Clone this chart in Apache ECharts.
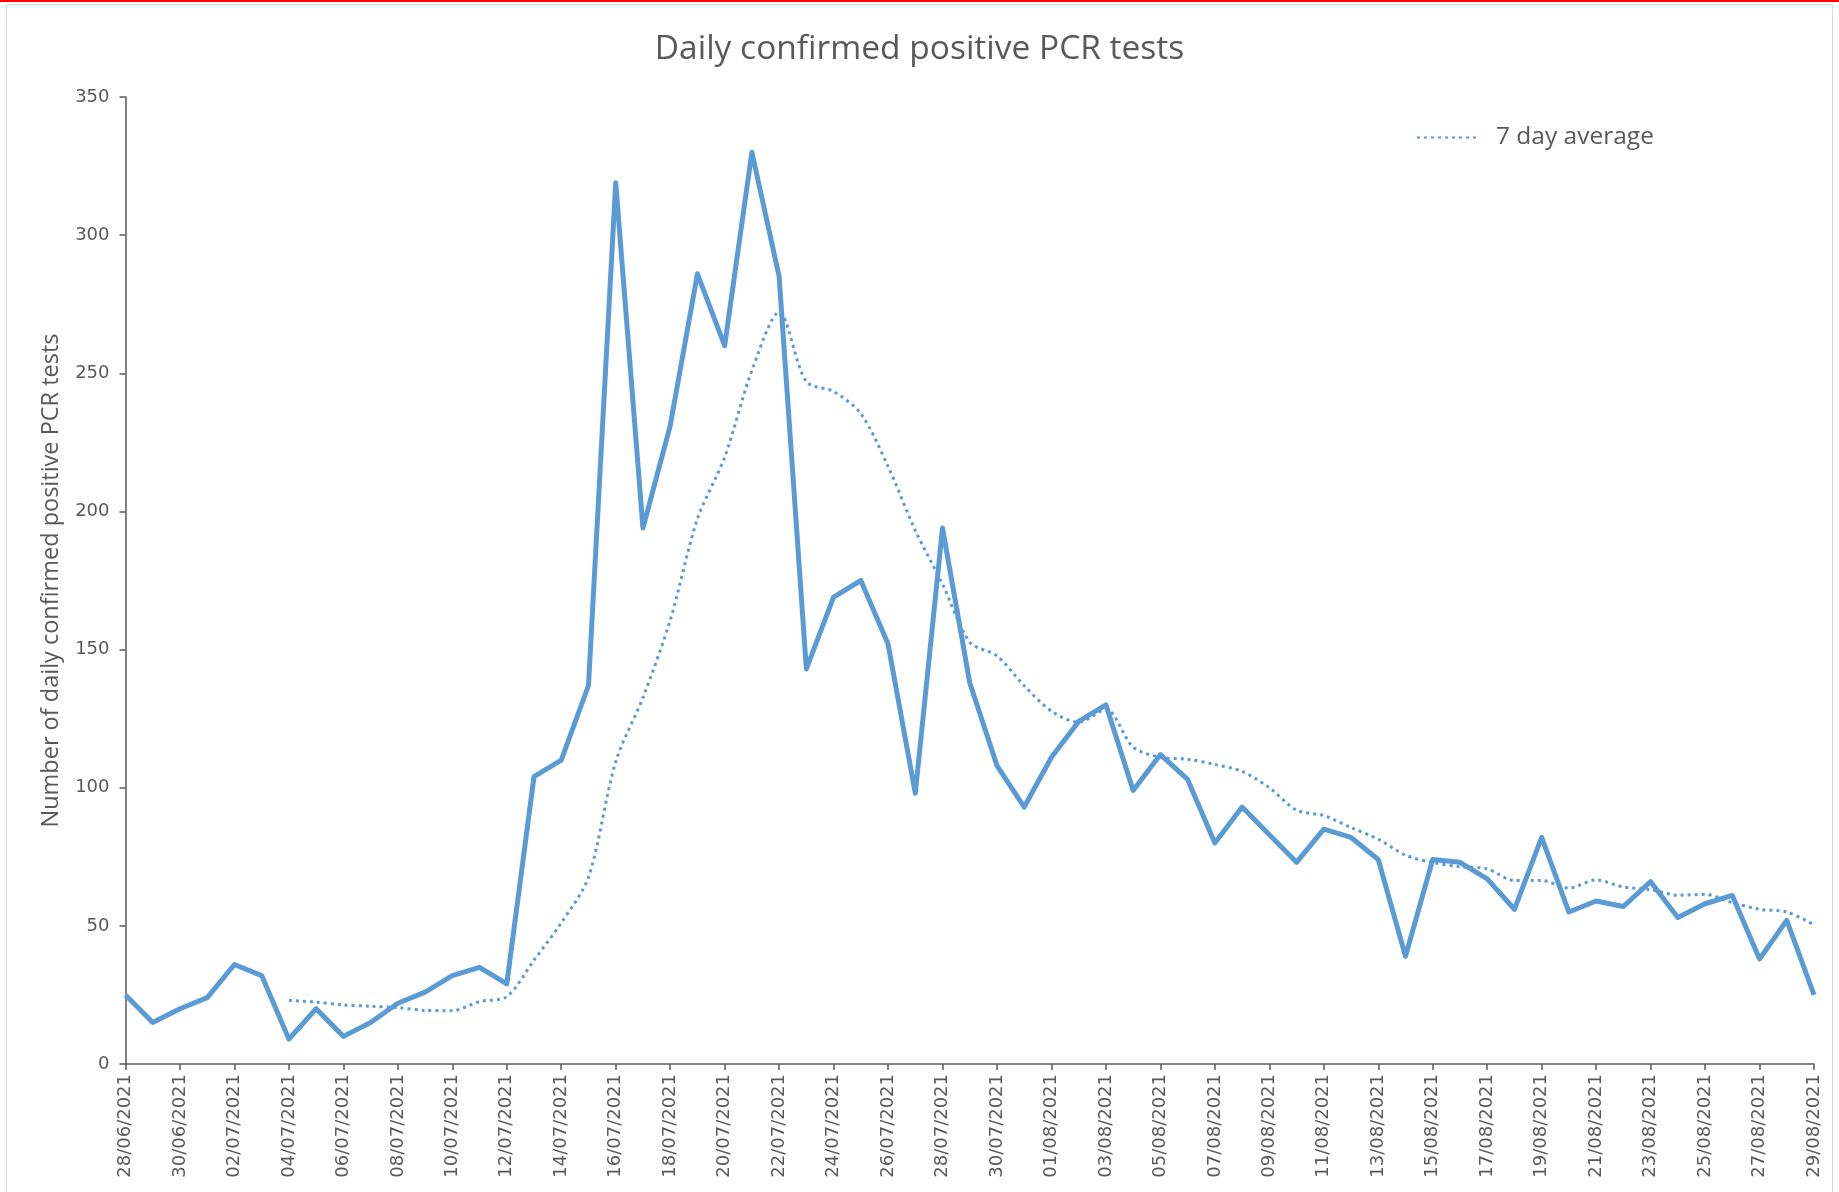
<!DOCTYPE html>
<html>
<head>
<meta charset="utf-8">
<script src="https://cdn.jsdelivr.net/npm/echarts@6/dist/echarts.min.js"></script>
<style>
html,body{margin:0;padding:0;background:#fff;}
#chart{width:1839px;height:1192px;}
</style>
</head>
<body>
<div id="chart"></div>
<script>
const categories = [
"28/06/2021","29/06/2021","30/06/2021","01/07/2021","02/07/2021","03/07/2021","04/07/2021","05/07/2021","06/07/2021","07/07/2021",
"08/07/2021","09/07/2021","10/07/2021","11/07/2021","12/07/2021","13/07/2021","14/07/2021","15/07/2021","16/07/2021","17/07/2021",
"18/07/2021","19/07/2021","20/07/2021","21/07/2021","22/07/2021","23/07/2021","24/07/2021","25/07/2021","26/07/2021","27/07/2021",
"28/07/2021","29/07/2021","30/07/2021","31/07/2021","01/08/2021","02/08/2021","03/08/2021","04/08/2021","05/08/2021","06/08/2021",
"07/08/2021","08/08/2021","09/08/2021","10/08/2021","11/08/2021","12/08/2021","13/08/2021","14/08/2021","15/08/2021","16/08/2021",
"17/08/2021","18/08/2021","19/08/2021","20/08/2021","21/08/2021","22/08/2021","23/08/2021","24/08/2021","25/08/2021","26/08/2021",
"27/08/2021","28/08/2021","29/08/2021"
];
const dailyPositive = [
25,15,20,24,36,32,9,20,10,15,
22,26,32,35,29,104,110,137,319,194,
231,286,260,330,285,143,169,175,152,98,
194,138,108,93,111,124,130,99,112,103,
80,93,83,73,85,82,74,39,74,73,
67,56,82,55,59,57,66,53,58,61,
38,52,25
];
const sevenDayAverage = [
null,null,null,null,null,null,23.0,22.4,21.4,20.9,
20.4,19.4,19.3,22.6,24.4,37.6,51.1,67.6,109.4,132.6,
160.6,197.3,219.6,251.0,272.1,247.0,243.4,235.4,216.3,193.1,
173.7,152.7,147.7,136.9,127.7,123.7,128.3,114.7,111.0,110.3,
108.4,105.9,100.0,91.9,89.9,85.6,81.4,75.6,72.9,71.4,
70.6,66.4,66.4,63.7,66.6,64.1,63.1,61.1,61.4,58.4,
56.0,55.0,50.4
];
const yTicks = {min:0, max:350, interval:50};

const chart = echarts.init(document.getElementById('chart'));
const axisColor = '#595959';
const blue = '#5B9BD5';
chart.setOption({
  backgroundColor:'#ffffff',
  animation:false,
  graphic:[
    {type:'rect', shape:{x:6.5,y:4.5,width:1826,height:1200}, style:{fill:'none', stroke:'#d9d9d9', lineWidth:1}, silent:true},
    {type:'rect', shape:{x:0,y:0,width:1839,height:2}, style:{fill:'#ff0000'}, silent:true}
  ],
  title:{
    text:'Daily confirmed positive PCR tests',
    left:'center', top:27,
    textStyle:{fontFamily:'Open Sans', fontSize:33.5, fontWeight:'normal', color:'#595959'}
  },
  legend:{
    data:['7 day average'],
    left:1411, top:120,
    itemWidth:60, itemHeight:14,
    itemStyle:{opacity:0},
    textStyle:{fontFamily:'Open Sans', fontSize:24.5, color:'#595959', padding:[0,0,0,14]}
  },
  grid:{left:125.5, right:25, top:97, bottom:128, containLabel:false},
  xAxis:{
    type:'category',
    data:categories,
    boundaryGap:false,
    axisLine:{lineStyle:{color:axisColor, width:1.5}},
    axisTick:{interval:1, length:6, lineStyle:{color:axisColor, width:1.5}},
    axisLabel:{interval:1, rotate:90, fontFamily:'DejaVu Sans', fontSize:18, color:axisColor, margin:10},
    splitLine:{show:false}
  },
  yAxis:{
    type:'value',
    min:yTicks.min, max:yTicks.max, interval:yTicks.interval,
    name:'Number of daily confirmed positive PCR tests',
    nameLocation:'middle', nameRotate:90, nameGap:62,
    nameTextStyle:{fontFamily:'Open Sans', fontSize:23.5, color:axisColor},
    axisLine:{show:true, lineStyle:{color:axisColor, width:1.5}},
    axisTick:{show:true, length:6, lineStyle:{color:axisColor, width:1.5}},
    axisLabel:{fontFamily:'DejaVu Sans', fontSize:18, color:axisColor, margin:16},
    splitLine:{show:false}
  },
  series:[
    {
      name:'Daily positive',
      type:'line',
      data:dailyPositive,
      symbol:'none',
      lineStyle:{color:blue, width:5, join:'round'},
      itemStyle:{color:blue},
      z:3
    },
    {
      name:'7 day average',
      type:'line',
      data:sevenDayAverage,
      symbol:'none',
      smooth:0.3,
      connectNulls:false,
      lineStyle:{color:blue, width:3, type:[3,4], cap:'butt'},
      itemStyle:{color:blue},
      z:2
    }
  ]
});
</script>
</body>
</html>
